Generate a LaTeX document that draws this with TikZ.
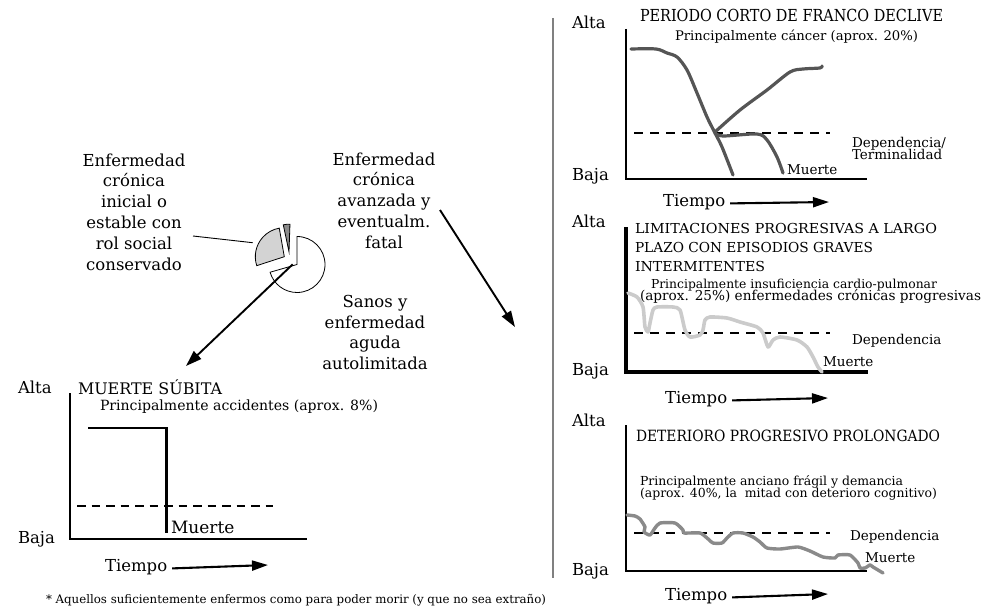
\documentclass[tikz,border=0pt]{standalone}
\usepackage{graphicx}
\usepackage{fontspec}
\setmainfont{DejaVu Serif}
\usetikzlibrary{arrows.meta}
\definecolor{darkc}{HTML}{555555}
\definecolor{lightc}{HTML}{CBCBCB}
\definecolor{midc}{HTML}{8A8A8A}
\definecolor{pieg}{HTML}{D3D3D3}
\definecolor{pied}{HTML}{8C8C8C}
\definecolor{sepc}{HTML}{808080}
\begin{document}
\begin{tikzpicture}[x=1pt,y=-1pt,
  every node/.style={inner sep=0pt,outer sep=0pt},
  lab/.style={font=\fontsize{16.5}{20.8}\selectfont},
  med/.style={font=\fontsize{13.5}{14}\selectfont},
  sub/.style={font=\fontsize{12.3}{13}\selectfont},
  axisline/.style={line width=2.2pt,line join=miter},
  depline/.style={line width=1.5pt,dash pattern=on 9pt off 7pt},
  tarrow/.style={line width=2.1pt,-{Triangle[length=16pt,width=10pt]}},
  parrow/.style={line width=1.9pt,-{Triangle[length=16pt,width=10.5pt]}},
  curvestyle/.style={line width=3.2pt,line cap=round,line join=round},
  piesec/.style={draw=black,line width=0.8pt,line join=miter}
]
\useasboundingbox (0,0) rectangle (984,610);

% separator
\draw[sepc,line width=1.3pt] (553,18) -- (553,578);

% ---------------- pie ----------------
\coordinate (W) at (297,264.5);
\coordinate (G) at (284.3,256.7);
\coordinate (S) at (289,251.7);
\filldraw[piesec,fill=white] (W) -- ++(-90:28) arc[start angle=-90,end angle=164,radius=28] -- cycle;
\filldraw[piesec,fill=pieg] (G) -- ++(-198:29) arc[start angle=-198,end angle=-100,radius=29] -- cycle;
\filldraw[piesec,fill=pied] (S) -- ++(-102:27.5) arc[start angle=-102,end angle=-88,radius=27.5] -- cycle;

\node[lab,align=center,anchor=north] (labL) at (134,153.5)
  {Enfermedad\\crónica\\inicial o\\estable con\\rol social\\conservado};
\node[lab,align=center,anchor=north] (labR) at (384,152.5)
  {Enfermedad\\crónica\\avanzada y\\eventualm.\\fatal};
\node[lab,align=center,anchor=north] (labS) at (375,295)
  {Sanos y\\enfermedad\\aguda\\autolimitada};

\coordinate (lnA) at (193,236);
\coordinate (lnB) at (252.7,242.7);
\draw[line width=0.9pt] (lnA) -- (lnB);

\coordinate (pa1) at (292.7,264.3);
\coordinate (pa2) at (186,366);
\draw[parrow] (pa1) -- (pa2);
\coordinate (pb1) at (440,210);
\coordinate (pb2) at (515,327);
\draw[parrow] (pb1) -- (pb2);

% ---------------- graph A (top right) ----------------
\node[lab,anchor=base west] (altaA) at (572,29) {Alta};
\node[lab,anchor=base west] (bajaA) at (572,180) {Baja};
\node[anchor=base west] (titA) at (640,22)
  {\resizebox{303pt}{12.3pt}{\fontsize{17}{17}\selectfont PERIODO CORTO DE FRANCO DECLIVE}};
\node[anchor=base west] (subA) at (675,41)
  {\resizebox{243pt}{!}{\fontsize{12.3}{13}\selectfont Principalmente cáncer (aprox. 20\%)}};
\coordinate (oA) at (626,179);
\draw[axisline] (626,29) -- (oA) -- (867,179);
\draw[depline] (634,133) -- (830,133);
\node[med,anchor=base west] (depA1) at (852,147) {Dependencia/};
\node[med,anchor=base west] (depA2) at (852,159) {Terminalidad};
\node[med,anchor=base west] (muA) at (787,174) {Muerte};
\draw[curvestyle,darkc] plot[smooth,tension=0.5] coordinates
  {(631,49) (656,49) (667,53) (677,57) (687,70) (697,93) (707,117) (715,133) (722,147) (733,175)};
\draw[curvestyle,darkc] plot[smooth,tension=0.5] coordinates
  {(715,132) (740,110) (767,90) (790,72) (803,69) (820,68) (822,66)};
\draw[curvestyle,darkc] plot[smooth,tension=0.5] coordinates
  {(715,133) (723,136) (757,134) (767,140) (777,157) (783,173)};
\node[lab,anchor=base west] (tiA) at (663,206) {Tiempo};
\coordinate (taA) at (829,202);
\draw[tarrow] ([xshift=5pt]tiA.mid east) -- (taA);

% ---------------- graph B (middle right) ----------------
\node[lab,anchor=base west] (altaB) at (572,227) {Alta};
\node[lab,anchor=base west] (bajaB) at (572,375) {Baja};
\node[anchor=base west] (titB1) at (635,233)
  {\resizebox{302pt}{10.2pt}{\fontsize{14}{14}\selectfont LIMITACIONES PROGRESIVAS A LARGO}};
\node[anchor=base west] (titB2) at (635,252)
  {\resizebox{238pt}{10.2pt}{\fontsize{14}{14}\selectfont PLAZO CON EPISODIOS GRAVES}};
\node[anchor=base west] (titB3) at (635,271)
  {\resizebox{130pt}{10.2pt}{\fontsize{14}{14}\selectfont INTERMITENTES}};
\node[anchor=base west] (subB1) at (651,288)
  {\resizebox{286pt}{!}{\fontsize{12.3}{13}\selectfont Principalmente insuficiencia cardio-pulmonar}};
\node[anchor=base west] (subB2) at (640,300)
  {\resizebox{341pt}{!}{\fontsize{12.3}{13}\selectfont (aprox. 25\%) enfermedades crónicas progresivas}};
\coordinate (oB) at (626,372);
\draw[axisline,line width=3.8pt] (626,227) -- (oB) -- (868,372);
\draw[depline] (634,333) -- (830,333);
\node[med,anchor=base west] (depB) at (852,344) {Dependencia};
\node[med,anchor=base west] (muB) at (823,366) {Muerte};
\draw[curvestyle,lightc,line width=3.6pt] plot[smooth,tension=0.4] coordinates
  {(628,293) (637,297) (643,307) (645,327) (648,332) (650,323) (653,310) (657,307) (673,307) (680,310) (685,330) (690,337) (700,335) (703,330) (705,320) (710,317) (727,318) (740,322) (757,327) (763,333) (768,347) (773,340) (780,337) (797,340) (807,347) (813,357) (818,367) (822,372)};
\node[lab,anchor=base west] (tiB) at (665,403) {Tiempo};
\coordinate (taB) at (828,398);
\draw[tarrow] ([xshift=5pt]tiB.mid east) -- (taB);

% ---------------- graph C (bottom right) ----------------
\node[lab,anchor=base west] (altaC) at (572,426) {Alta};
\node[lab,anchor=base west] (bajaC) at (572,575) {Baja};
\node[anchor=base west] (titC) at (636,441)
  {\resizebox{304pt}{11.5pt}{\fontsize{15.5}{15.5}\selectfont DETERIORO PROGRESIVO PROLONGADO}};
\node[anchor=base west] (subC1) at (640,485)
  {\resizebox{263pt}{!}{\fontsize{12.3}{13}\selectfont Principalmente anciano frágil y demancia}};
\node[anchor=base west] (subC2) at (640,497)
  {\resizebox{297pt}{!}{\fontsize{12.3}{13}\selectfont (aprox. 40\%, la\ \ mitad con deterioro cognitivo)}};
\coordinate (oC) at (626,571);
\draw[axisline,line width=2pt] (626,425) -- (oC) -- (867,571);
\draw[depline] (634,533) -- (830,533);
\node[med,anchor=base west] (depC) at (850,540) {Dependencia};
\node[med,anchor=base west] (muC) at (865,562) {Muerte};
\draw[curvestyle,midc,line width=3.4pt] plot[smooth,tension=0.35] coordinates
  {(627,515) (635,516) (640,519) (645,527) (644,532) (650,535) (655,528) (660,523) (675,523) (683,530) (684,533) (700,533) (707,538) (713,543) (722,543) (727,538) (733,533) (743,533) (753,537) (760,542) (767,548) (780,549) (798,547) (810,551) (823,557) (835,558) (838,555) (850,555) (858,563) (860,568) (865,568) (870,565) (873,567) (883,573)};
\node[lab,anchor=base west] (tiC) at (665,600) {Tiempo};
\coordinate (taC) at (828,594);
\draw[tarrow] ([xshift=5pt]tiC.mid east) -- (taC);

% ---------------- graph D (bottom left) ----------------
\node[lab,anchor=base west] (altaD) at (18,393) {Alta};
\node[lab,anchor=base west] (bajaD) at (18,543) {Baja};
\node[anchor=base west] (titD) at (78,394)
  {\resizebox{144pt}{!}{\fontsize{17}{17}\selectfont MUERTE SÚBITA}};
\node[anchor=base west] (subD) at (100,410)
  {\resizebox{278pt}{!}{\fontsize{12.8}{13}\selectfont Principalmente accidentes (aprox. 8\%)}};
\coordinate (oD) at (70,539);
\draw[axisline,line width=2pt] (70,393) -- (oD) -- (307,539);
\draw[line width=2pt] (88,428) -- (168,428);
\draw[line width=3pt] (166,428) -- (166,533);
\draw[depline,dash pattern=on 8.5pt off 6pt] (77,506) -- (273,506);
\node[anchor=base west,font=\fontsize{17}{17}\selectfont] (muD) at (171,533) {Muerte};
\node[lab,anchor=base west] (tiD) at (105,571) {Tiempo};
\coordinate (taD) at (268,565);
\draw[tarrow] ([xshift=5pt]tiD.mid east) -- (taD);

\node[anchor=base west] (foot) at (46,603)
  {\resizebox{500pt}{!}{\fontsize{10.5}{12}\selectfont * Aquellos suficientemente enfermos como para poder morir (y que no sea extraño)}};
\end{tikzpicture}
\end{document}
